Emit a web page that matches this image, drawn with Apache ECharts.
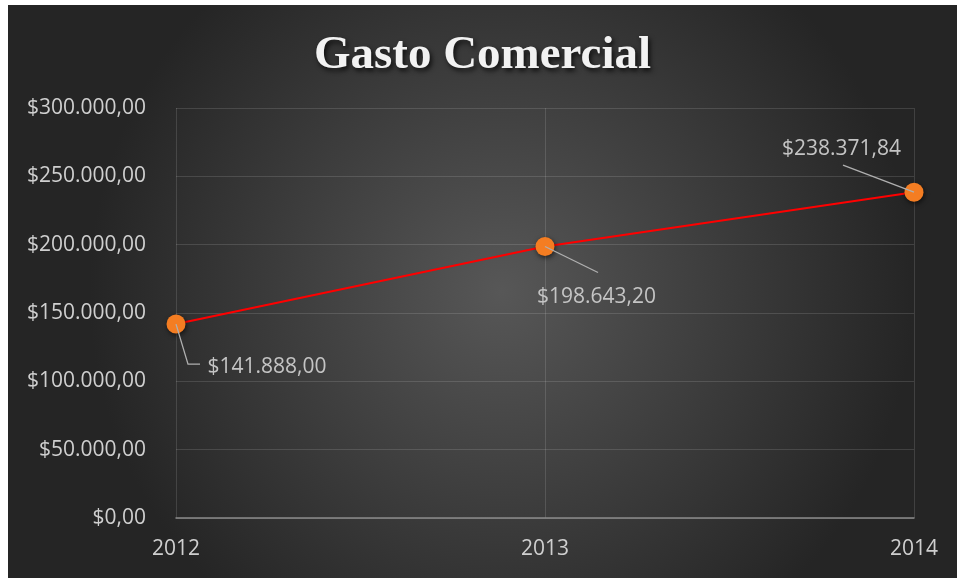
<!DOCTYPE html>
<html>
<head>
<meta charset="utf-8">
<script src="https://cdn.jsdelivr.net/npm/echarts@6/dist/echarts.min.js"></script>
<style>
html,body{margin:0;padding:0;background:#ffffff;width:957px;height:578px;overflow:hidden;}
#main{position:absolute;left:8px;top:5px;width:949px;height:573px;}
</style>
</head>
<body>
<div id="main"></div>
<script>
const titleText = 'Gasto Comercial';
const categories = ['2012', '2013', '2014'];
const gastoValues = [141888.00, 198643.20, 238371.84];
const yMin = 0, yMax = 300000, yInterval = 50000;

function fmtMoney(v) {
  const parts = Number(v).toFixed(2).split('.');
  const intPart = parts[0].replace(/\B(?=(\d{3})+(?!\d))/g, '.');
  return '$' + intPart + ',' + parts[1];
}

// label placement relative to the marker (style only)
const labelPlacement = [
  {position: [41, 52], align: 'left'},
  {position: [61, 60], align: 'center'},
  {position: [-63, -34], align: 'center'}
];
// leader line bends relative to the marker centre (style only)
const leaderOffsets = [
  [[0, 0], [12, 40], [24, 40]],
  [[0, 0], [53, 26]],
  [[0, 0], [-71, -27]]
];

const chart = echarts.init(document.getElementById('main'), null, {renderer: 'canvas'});
const textFont = '"Open Sans", "Noto Sans", sans-serif';

chart.setOption({
  backgroundColor: {
    type: 'radial', x: 0.52, y: 0.5, r: 0.72,
    colorStops: [{offset: 0, color: '#575757'}, {offset: 1, color: '#252525'}]
  },
  animation: false,
  title: {
    text: titleText,
    left: 'center',
    top: 22,
    textStyle: {
      fontFamily: '"Liberation Serif", "Times New Roman", serif',
      fontWeight: 'bold',
      fontSize: 47,
      color: '#f2f2f2',
      textShadowColor: 'rgba(0,0,0,0.75)',
      textShadowBlur: 5,
      textShadowOffsetX: 2,
      textShadowOffsetY: 3
    }
  },
  grid: {left: 168, right: 43, top: 103, bottom: 60},
  xAxis: {
    type: 'category',
    data: categories,
    boundaryGap: false,
    axisLine: {show: true, lineStyle: {color: '#8a8a8a', width: 1.5}},
    axisTick: {show: false},
    axisLabel: {color: '#cfcfcf', fontSize: 21, fontFamily: textFont, margin: 21},
    splitLine: {show: true, lineStyle: {color: 'rgba(255,255,255,0.13)', width: 1}}
  },
  yAxis: {
    type: 'value',
    min: yMin, max: yMax, interval: yInterval,
    axisLine: {show: false},
    axisTick: {show: false},
    axisLabel: {color: '#cfcfcf', fontSize: 21, fontFamily: textFont, margin: 30, formatter: fmtMoney},
    splitLine: {show: true, lineStyle: {color: 'rgba(255,255,255,0.13)', width: 1}}
  },
  series: [{
    type: 'line',
    data: gastoValues.map((v, i) => ({
      value: v,
      label: {position: labelPlacement[i].position, align: labelPlacement[i].align, verticalAlign: 'middle'}
    })),
    symbol: 'circle',
    symbolSize: 19,
    lineStyle: {color: '#ff0000', width: 2},
    itemStyle: {color: '#f47d22', shadowColor: 'rgba(0,0,0,0.6)', shadowBlur: 5, shadowOffsetX: 1, shadowOffsetY: 2},
    label: {
      show: true,
      formatter: p => fmtMoney(p.value),
      color: '#c4c4c4',
      fontSize: 21,
      fontFamily: textFont
    },
    z: 2
  }, {
    type: 'custom',
    data: gastoValues.map((v, i) => [i, v]),
    z: 5,
    silent: true,
    renderItem: function (params, api) {
      const p = api.coord([api.value(0), api.value(1)]);
      const offs = leaderOffsets[params.dataIndex];
      return {
        type: 'polyline',
        shape: {points: offs.map(o => [p[0] + o[0], p[1] + o[1]])},
        style: {stroke: '#b0b0b0', lineWidth: 1.3, fill: null}
      };
    }
  }]
});
</script>
</body>
</html>
